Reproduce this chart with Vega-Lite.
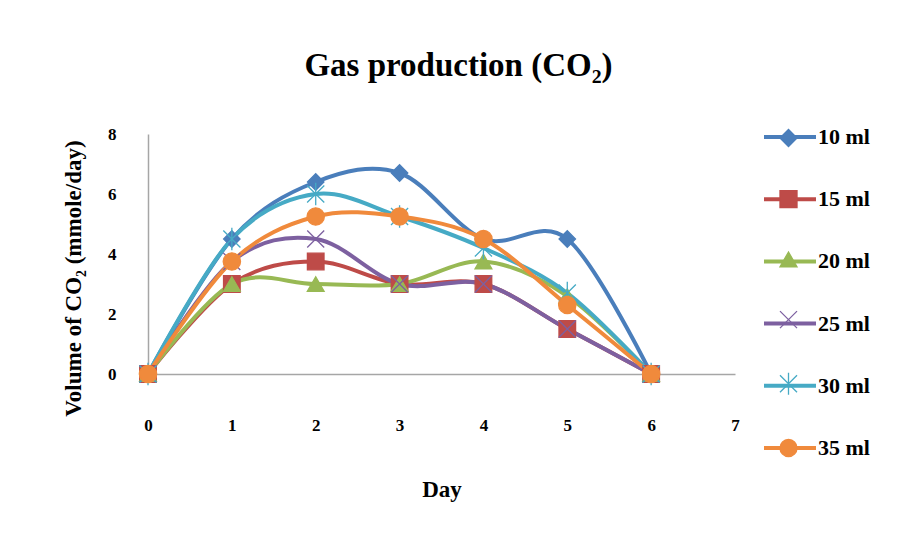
{
  "$schema": "https://vega.github.io/schema/vega-lite/v6.json",
  "width": 587,
  "height": 240,
  "autosize": "none",
  "padding": {"left": 148, "top": 134, "right": 166, "bottom": 160},
  "background": "white",
  "config": {
    "view": {"stroke": null},
    "font": "Liberation Serif",
    "axis": {"labelFont": "Liberation Serif", "titleFont": "Liberation Serif"},
    "legend": {"labelFont": "Liberation Serif"}
  },
  "title": {
    "text": "Gas production (CO₂)",
    "font": "Liberation Serif",
    "fontSize": 33,
    "fontWeight": "bold",
    "color": "black",
    "anchor": "middle",
    "dx": 17,
    "offset": 26
  },
  "data": {
    "values": [
      {"series": "10 ml", "day": 0, "volume": 0},
      {"series": "10 ml", "day": 1, "volume": 4.5},
      {"series": "10 ml", "day": 2, "volume": 6.4},
      {"series": "10 ml", "day": 3, "volume": 6.7},
      {"series": "10 ml", "day": 4, "volume": 4.5},
      {"series": "10 ml", "day": 5, "volume": 4.5},
      {"series": "10 ml", "day": 6, "volume": 0},
      {"series": "15 ml", "day": 0, "volume": 0},
      {"series": "15 ml", "day": 1, "volume": 3.0},
      {"series": "15 ml", "day": 2, "volume": 3.75},
      {"series": "15 ml", "day": 3, "volume": 3.0},
      {"series": "15 ml", "day": 4, "volume": 3.0},
      {"series": "15 ml", "day": 5, "volume": 1.5},
      {"series": "15 ml", "day": 6, "volume": 0},
      {"series": "20 ml", "day": 0, "volume": 0},
      {"series": "20 ml", "day": 1, "volume": 3.0},
      {"series": "20 ml", "day": 2, "volume": 3.0},
      {"series": "20 ml", "day": 3, "volume": 3.0},
      {"series": "20 ml", "day": 4, "volume": 3.75},
      {"series": "20 ml", "day": 5, "volume": 2.6},
      {"series": "20 ml", "day": 6, "volume": 0},
      {"series": "25 ml", "day": 0, "volume": 0},
      {"series": "25 ml", "day": 1, "volume": 3.75},
      {"series": "25 ml", "day": 2, "volume": 4.5},
      {"series": "25 ml", "day": 3, "volume": 3.0},
      {"series": "25 ml", "day": 4, "volume": 3.0},
      {"series": "25 ml", "day": 5, "volume": 1.5},
      {"series": "25 ml", "day": 6, "volume": 0},
      {"series": "30 ml", "day": 0, "volume": 0},
      {"series": "30 ml", "day": 1, "volume": 4.5},
      {"series": "30 ml", "day": 2, "volume": 6.0},
      {"series": "30 ml", "day": 3, "volume": 5.25},
      {"series": "30 ml", "day": 4, "volume": 4.2},
      {"series": "30 ml", "day": 5, "volume": 2.7},
      {"series": "30 ml", "day": 6, "volume": 0},
      {"series": "35 ml", "day": 0, "volume": 0},
      {"series": "35 ml", "day": 1, "volume": 3.75},
      {"series": "35 ml", "day": 2, "volume": 5.25},
      {"series": "35 ml", "day": 3, "volume": 5.25},
      {"series": "35 ml", "day": 4, "volume": 4.5},
      {"series": "35 ml", "day": 5, "volume": 2.3},
      {"series": "35 ml", "day": 6, "volume": 0}
    ]
  },
  "encoding": {
    "x": {
      "field": "day",
      "type": "quantitative",
      "scale": {"domain": [0, 7], "nice": false},
      "axis": {
        "title": "Day",
        "values": [0, 1, 2, 3, 4, 5, 6, 7],
        "format": "d",
        "grid": false,
        "ticks": false,
        "domainColor": "#A6A6A6",
        "domainWidth": 1.5,
        "labelFontSize": 17,
        "labelFontWeight": "bold",
        "labelColor": "black",
        "labelPadding": 43,
        "labelFlush": false,
        "titleFontSize": 23,
        "titleFontWeight": "bold",
        "titleColor": "black",
        "titlePadding": 45
      }
    },
    "y": {
      "field": "volume",
      "type": "quantitative",
      "scale": {"domain": [0, 8], "nice": false},
      "axis": {
        "title": "Volume of CO₂ (mmole/day)",
        "values": [0, 2, 4, 6, 8],
        "grid": false,
        "ticks": false,
        "domainColor": "#A6A6A6",
        "domainWidth": 1.5,
        "labelFontSize": 17,
        "labelFontWeight": "bold",
        "labelColor": "black",
        "labelPadding": 32,
        "titleFontSize": 23,
        "titleFontWeight": "bold",
        "titleColor": "black",
        "titleX": -63,
        "titleY": 144
      }
    }
  },
  "layer": [
    {
      "mark": {"type": "line", "interpolate": "cardinal", "strokeWidth": 4},
      "encoding": {
        "color": {
          "field": "series",
          "type": "nominal",
          "scale": {
            "domain": ["10 ml", "15 ml", "20 ml", "25 ml", "30 ml", "35 ml"],
            "range": ["#4A7EBB", "#BE4B48", "#98B954", "#7D60A0", "#46AAC5", "#F08A3C"]
          },
          "legend": {
            "title": null,
            "orient": "none",
            "legendX": 614,
            "legendY": -25,
            "padding": 0,
            "symbolType": "stroke",
            "symbolSize": 2704,
            "symbolStrokeWidth": 4,
            "rowPadding": 23.2,
            "labelOffset": 0,
            "labelFontSize": 22,
            "labelFontWeight": "bold",
            "labelColor": "black"
          }
        }
      }
    },
    {
      "mark": {"type": "point", "filled": false, "strokeWidth": 1.3, "opacity": 1},
      "encoding": {
        "color": {
          "field": "series",
          "type": "nominal",
          "legend": {
            "title": null,
            "orient": "none",
            "legendX": 631,
            "legendY": -5.5,
            "padding": 0,
            "zindex": 2,
            "symbolSize": 290,
            "symbolStrokeWidth": 1.3,
            "rowPadding": 38.2,
            "labelExpr": "''"
          }
        },
        "fill": {
          "field": "series",
          "type": "nominal",
          "scale": {
            "domain": ["10 ml", "15 ml", "20 ml", "25 ml", "30 ml", "35 ml"],
            "range": ["#4A7EBB", "#BE4B48", "#98B954", "#7D60A0", "#46AAC5", "#F08A3C"]
          },
          "legend": {
            "title": null,
            "orient": "none",
            "legendX": 631,
            "legendY": -5.5,
            "padding": 0,
            "zindex": 2,
            "symbolSize": 290,
            "symbolStrokeWidth": 1.3,
            "rowPadding": 38.2,
            "labelExpr": "''"
          }
        },
        "shape": {
          "field": "series",
          "type": "nominal",
          "scale": {
            "domain": ["10 ml", "15 ml", "20 ml", "25 ml", "30 ml", "35 ml"],
            "range": ["diamond", "square", "triangle-up", "M-1,-1L1,1M-1,1L1,-1", "M-1,-1L1,1M-1,1L1,-1M0,-1.3L0,1.3", "circle"]
          },
          "legend": {
            "title": null,
            "orient": "none",
            "legendX": 631,
            "legendY": -5.5,
            "padding": 0,
            "zindex": 2,
            "symbolSize": 290,
            "symbolStrokeWidth": 1.3,
            "rowPadding": 38.2,
            "labelExpr": "''"
          }
        },
        "size": {
          "field": "series",
          "type": "ordinal",
          "scale": {
            "domain": ["10 ml", "15 ml", "20 ml", "25 ml", "30 ml", "35 ml"],
            "range": [270, 300, 300, 300, 300, 320]
          },
          "legend": null
        }
      }
    }
  ],
  "resolve": {"legend": {"color": "independent", "fill": "independent", "shape": "independent"}}
}
